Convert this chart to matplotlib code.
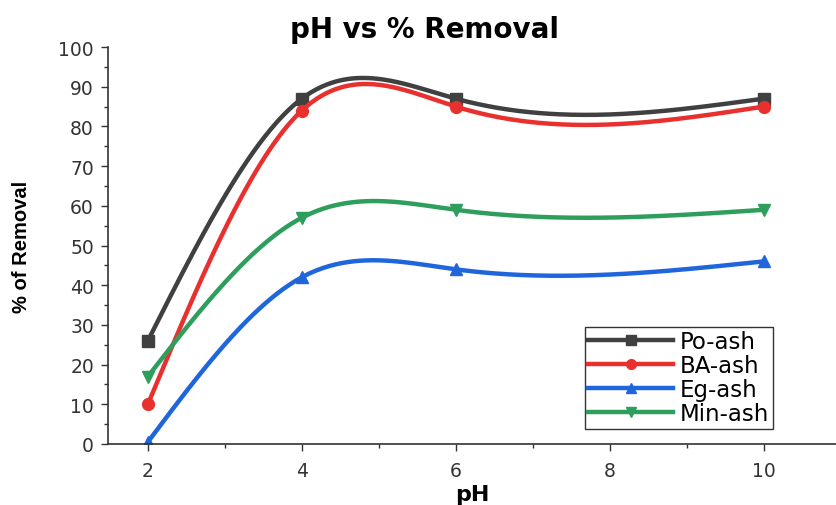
import numpy as np
import matplotlib
matplotlib.use("Agg")
import matplotlib.pyplot as plt
from matplotlib.ticker import MultipleLocator

ph = [2, 4, 6, 10]
po_ash = [26, 87, 87, 87]
ba_ash = [10, 84, 85, 85]
eg_ash = [0.5, 42, 44, 46]
min_ash = [17, 57, 59, 59]

series = [
    ("Po-ash", po_ash, "#404040", "s"),
    ("BA-ash", ba_ash, "#e8312f", "o"),
    ("Eg-ash", eg_ash, "#1f66dc", "^"),
    ("Min-ash", min_ash, "#2e9e5c", "v"),
]


def natural_spline(x, y, n=300):
    x = np.asarray(x, float)
    y = np.asarray(y, float)
    m = len(x)
    h = np.diff(x)
    A = np.zeros((m, m))
    b = np.zeros(m)
    A[0, 0] = 1
    A[-1, -1] = 1
    for i in range(1, m - 1):
        A[i, i - 1] = h[i - 1]
        A[i, i] = 2 * (h[i - 1] + h[i])
        A[i, i + 1] = h[i]
        b[i] = 3 * ((y[i + 1] - y[i]) / h[i] - (y[i] - y[i - 1]) / h[i - 1])
    c = np.linalg.solve(A, b)
    xs = np.linspace(x[0], x[-1], n)
    ys = np.empty_like(xs)
    for k, xv in enumerate(xs):
        i = min(np.searchsorted(x, xv, side="right") - 1, m - 2)
        dx = xv - x[i]
        bi = (y[i + 1] - y[i]) / h[i] - h[i] * (2 * c[i] + c[i + 1]) / 3
        di = (c[i + 1] - c[i]) / (3 * h[i])
        ys[k] = y[i] + bi * dx + c[i] * dx ** 2 + di * dx ** 3
    return xs, ys


plt.rcParams["font.family"] = ["DejaVu Sans"]
fig = plt.figure(figsize=(8.36, 5.06), dpi=100)
ax = fig.add_axes([0.129, 0.1206, 0.871, 0.7844])

for name, vals, col, mk in series:
    xs, ys = natural_spline(ph, vals)
    ax.plot(xs, ys, color=col, lw=3.2, solid_capstyle="butt")
    ax.plot(ph, vals, linestyle="none", marker=mk, color=col, ms=8.5)
    ax.plot([], [], color=col, lw=3.2, marker=mk, ms=7, label=name)

ax.set_xlim(1.48, 10.94)
ax.set_ylim(0, 100)
ax.set_xticks([2, 4, 6, 8, 10])
ax.xaxis.set_minor_locator(MultipleLocator(1))
ax.yaxis.set_major_locator(MultipleLocator(10))
ax.yaxis.set_minor_locator(MultipleLocator(5))
for s in ["top", "right"]:
    ax.spines[s].set_visible(False)
for s in ["left", "bottom"]:
    ax.spines[s].set_color("#333333")
    ax.spines[s].set_linewidth(1.2)
ax.tick_params(axis="both", which="major", direction="out", length=5, width=1,
               colors="#333333", labelsize=13.5, labelcolor="#333333")
ax.tick_params(axis="both", which="minor", direction="out", length=3, width=1,
               colors="#333333")
ax.tick_params(axis="x", which="major", pad=7)
ax.tick_params(axis="y", which="major", pad=5)

ax.set_title("pH vs % Removal", fontsize=20, fontweight="bold", pad=7, x=0.435)
ax.set_xlabel("pH", fontsize=16, fontweight="bold", labelpad=3)
ax.set_ylabel("% of Removal", fontsize=14.5, fontweight="bold", labelpad=20,
              family=["Liberation Sans", "DejaVu Sans"])

leg = ax.legend(loc="lower right", bbox_to_anchor=(0.913, 0.038), fontsize=16.5,
                frameon=True, fancybox=False, edgecolor="black",
                handlelength=3.7, handletextpad=0.3, labelspacing=0.05,
                borderpad=0.15, borderaxespad=0)
leg.get_frame().set_linewidth(1)

fig.savefig("out.png", dpi=100)
